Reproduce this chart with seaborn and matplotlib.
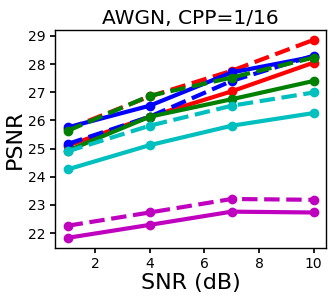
import numpy as np
import pandas as pd
import matplotlib
matplotlib.use("Agg")
import matplotlib.pyplot as plt
import seaborn as sns

snr = [1, 4, 7, 10]

# PSNR per scheme (solid / dashed pairs per colour)
red_solid = [25.10, 26.13, 27.03, 28.05]
red_dashed = [25.69, 26.85, 27.76, 28.86]
blue_solid = [25.75, 26.52, 27.70, 28.26]
blue_dashed = [25.16, 26.13, 27.40, 28.30]
green_solid = [24.92, 26.13, 26.75, 27.40]
green_dashed = [25.63, 26.87, 27.52, 28.23]
cyan_solid = [24.26, 25.12, 25.81, 26.26]
cyan_dashed = [24.90, 25.81, 26.52, 26.99]
magenta_solid = [21.83, 22.29, 22.76, 22.73]
magenta_dashed = [22.26, 22.73, 23.21, 23.18]

RED, BLUE, GREEN, CYAN, MAGENTA = "#ff0000", "#0000ff", "#008000", "#00bfbf", "#bf00bf"
series = [
    (RED, "-", red_solid), (RED, "--", red_dashed),
    (BLUE, "-", blue_solid), (BLUE, "--", blue_dashed),
    (GREEN, "-", green_solid), (GREEN, "--", green_dashed),
    (CYAN, "-", cyan_solid), (CYAN, "--", cyan_dashed),
    (MAGENTA, "-", magenta_solid), (MAGENTA, "--", magenta_dashed),
]

sns.set_theme(style="ticks")
plt.rcParams.update({"font.family": ["DejaVu Sans"],
                     "xtick.labelsize": 10, "ytick.labelsize": 10,
                     "xtick.major.size": 3.5, "ytick.major.size": 3.5,
                     "xtick.major.pad": 3.5, "ytick.major.pad": 3.5,
                     "xtick.color": "black", "ytick.color": "black",
                     "text.color": "black", "axes.labelcolor": "black",
                     "axes.edgecolor": "black", "axes.linewidth": 1.0})

fig = plt.figure(figsize=(3.29, 2.96), dpi=100)
ax = fig.add_axes([0.168, 0.163, 0.823, 0.736])

for color, ls, vals in series:
    df = pd.DataFrame({"snr": snr, "psnr": vals})
    sns.lineplot(data=df, x="snr", y="psnr", ax=ax, color=color,
                 linestyle=ls, linewidth=3, marker="o", markersize=7,
                 markeredgewidth=0, legend=False)

ax.set_yticks(range(22, 30))
ax.set_xticks([2, 4, 6, 8, 10])
ax.set_title("AWGN, CPP=1/16", fontsize=14.5, pad=4)
ax.set_xlabel("SNR (dB)", fontsize=16, labelpad=1)
ax.set_ylabel("PSNR", fontsize=16, labelpad=2)

fig.savefig("out.png", dpi=100)
